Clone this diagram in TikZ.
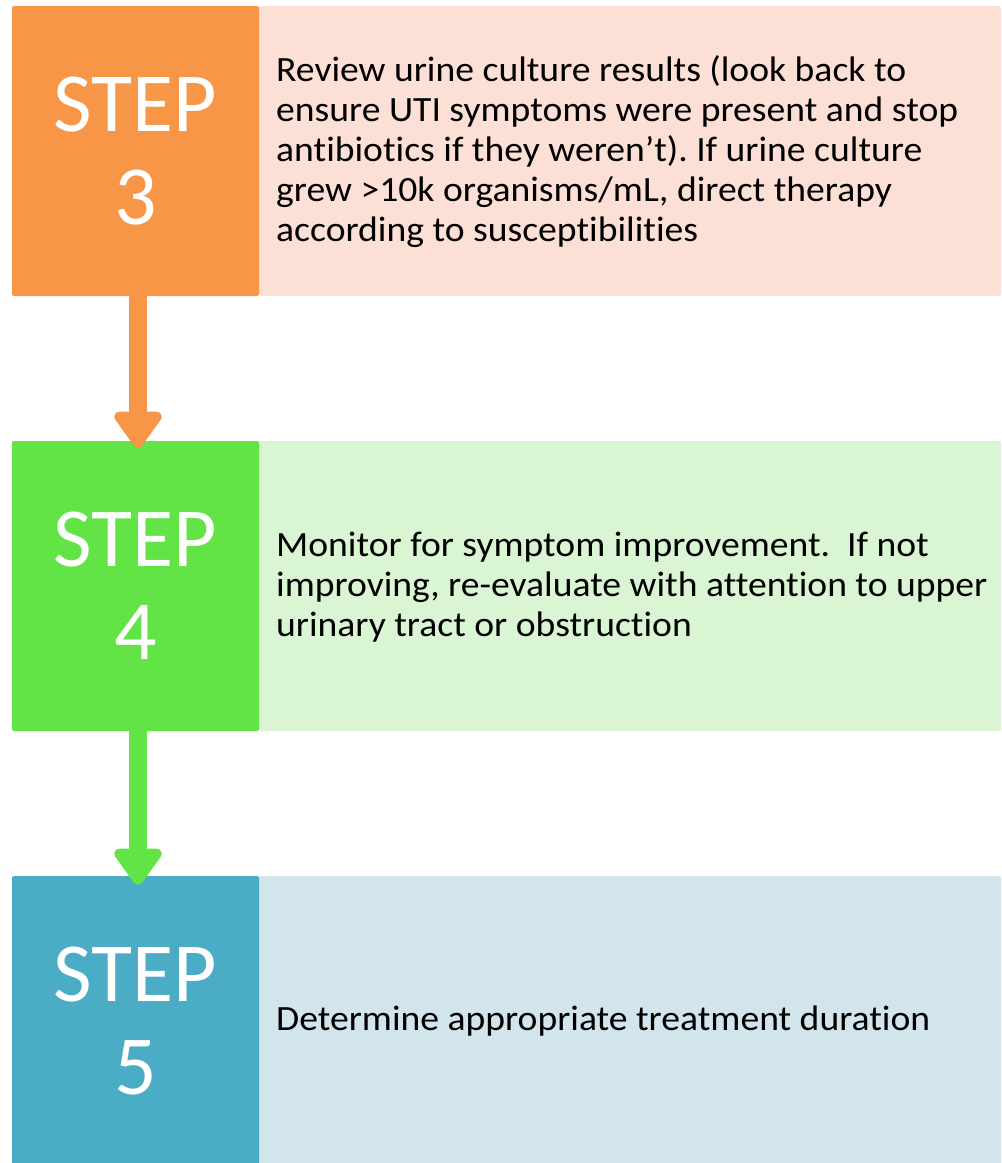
\documentclass[tikz,border=0pt]{standalone}
\usepackage{fontspec}
\setmainfont{Carlito}
\newfontfamily\descfont[FakeStretch=1.06,Ligatures=NoCommon]{Carlito}
\usetikzlibrary{arrows.meta}
\definecolor{orangeD}{HTML}{F79646}
\definecolor{orangeL}{HTML}{FCE0D6}
\definecolor{greenD}{HTML}{62E346}
\definecolor{greenL}{HTML}{DAF5D3}
\definecolor{blueD}{HTML}{4BACC6}
\definecolor{blueL}{HTML}{D3E5EC}
\frenchspacing
\begin{document}
\begin{tikzpicture}[x=1pt,y=-1pt,
  stepbox/.style={rectangle, rounded corners=2pt, minimum width=247pt, inner sep=0pt, text=white, align=center,
    font=\fontsize{84}{93}\selectfont},
  descbox/.style={rectangle, rounded corners=2pt, minimum width=742pt, inner sep=0pt},
  desctext/.style={anchor=west, align=left, inner sep=0pt, text=black, font=\descfont\fontsize{35.5}{40}\selectfont},
  flow/.style={line width=18pt, -{Triangle[width=54pt,length=40pt,round]}}
]
\useasboundingbox (0,0) rectangle (1002,1163);
% row 3
\node[descbox, fill=orangeL, minimum height=290pt] (d3) at (630,151) {};
\node[stepbox, fill=orangeD, minimum height=290pt] (s3) at (135.5,151) {STEP\\3};
\node[desctext] (t3) at (276,152) {Review urine culture results (look back to\\ensure UTI symptoms were present and stop\\antibiotics if they weren’t). If urine culture\\grew >10k organisms/mL, direct therapy\\according to susceptibilities};
% row 4
\node[descbox, fill=greenL, minimum height=290pt] (d4) at (630,586) {};
\node[stepbox, fill=greenD, minimum height=290pt] (s4) at (135.5,586) {STEP\\4};
\node[desctext] (t4) at (276,587) {Monitor for symptom improvement.\ \ If not\\improving, re-evaluate with attention to upper\\urinary tract or obstruction};
% row 5
\node[descbox, fill=blueL, minimum height=290pt] (d5) at (630,1021) {};
\node[stepbox, fill=blueD, minimum height=290pt] (s5) at (135.5,1021) {STEP\\5};
\node[desctext] (t5) at (276,1021) {Determine appropriate treatment duration};
% arrows
\draw[flow, draw=orangeD, fill=orangeD] ([xshift=2.5pt]s3.south) -- ([xshift=2.5pt,yshift=-7pt]s4.north);
\draw[flow, draw=greenD, fill=greenD] ([xshift=2.5pt]s4.south) -- ([xshift=2.5pt,yshift=-9pt]s5.north);
\end{tikzpicture}
\end{document}
